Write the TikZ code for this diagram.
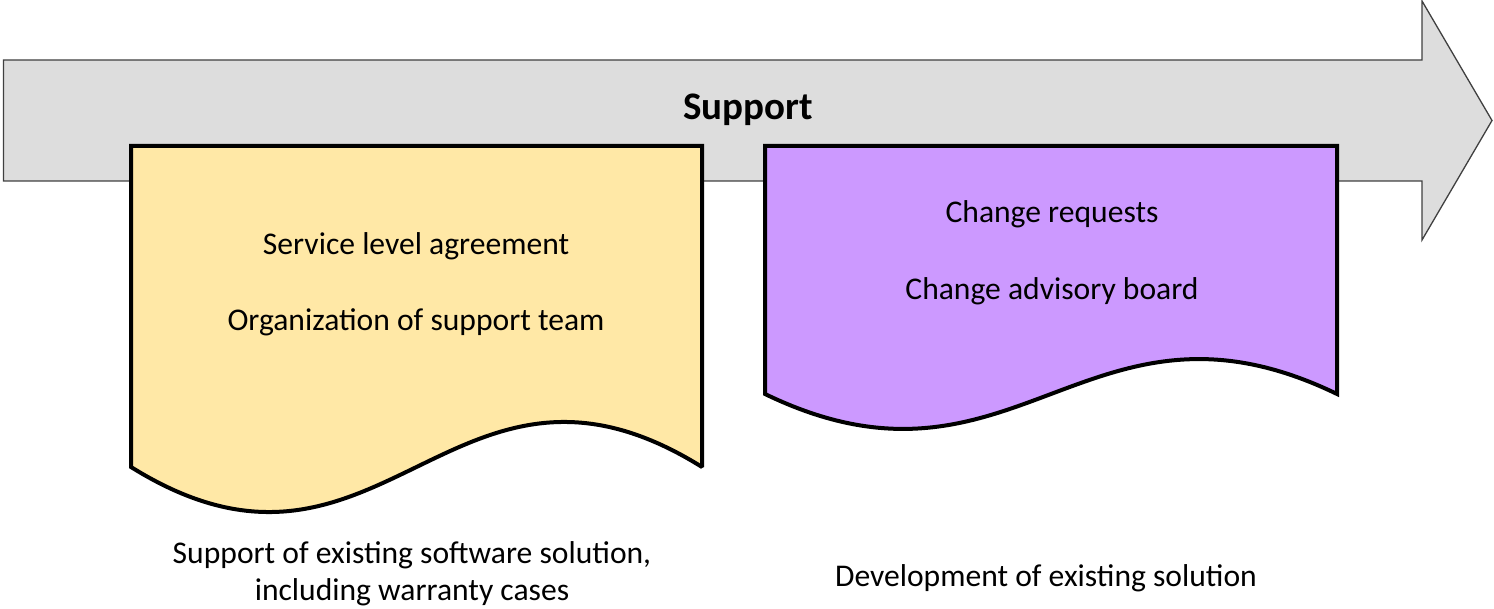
\documentclass[tikz,border=0pt]{standalone}
\usepackage{fontspec}
\setmainfont{Carlito}
\definecolor{arrowgray}{HTML}{DDDDDD}
\definecolor{arrowline}{HTML}{404040}
\definecolor{docyellow}{HTML}{FFE8A6}
\definecolor{docpurple}{HTML}{CC99FF}
\tikzset{
  arrowshape/.style={fill=arrowgray, draw=arrowline, line width=1.3pt, line join=miter},
  docshape/.style={draw=black, line width=4pt, miter limit=2},
  bodytext/.style={anchor=base, inner sep=0pt, font=\fontsize{31.6}{37}\selectfont},
  titletext/.style={anchor=base, inner sep=0pt, font=\fontsize{39}{44}\selectfont\bfseries},
}
\begin{document}
\begin{tikzpicture}[x=1pt,y=-1pt]
\useasboundingbox (0,0) rectangle (1494,609);
% big arrow
\draw[arrowshape] (3.5,60) -- (1422,60) -- (1422,1) -- (1492,120.5) -- (1422,240) -- (1422,181) -- (3.5,181) -- cycle;
\node[titletext] (title) at (748,120) {Support};
% yellow document
\draw[docshape, fill=docyellow] (131,146) -- (702,146) -- (702,467)
  .. controls (452,311) and (381,623) .. (131,467) -- cycle;
% purple document
\draw[docshape, fill=docpurple] (765,146) -- (1337,146) -- (1337,394)
  .. controls (1087,273) and (1015,515) .. (765,394) -- cycle;
% texts
\node[bodytext] (sla) at (416,255) {Service level agreement};
\node[bodytext] (org) at (416,331) {Organization of support team};
\node[bodytext] (cr) at (1052,223) {Change requests};
\node[bodytext] (cab) at (1052,300) {Change advisory board};
\node[bodytext] (cap1a) at (412,563) {Support of existing software solution,};
\node[bodytext] (cap1b) at (412,600) {including warranty cases};
\node[bodytext] (cap2) at (1046,586) {Development of existing solution};
\end{tikzpicture}
\end{document}
